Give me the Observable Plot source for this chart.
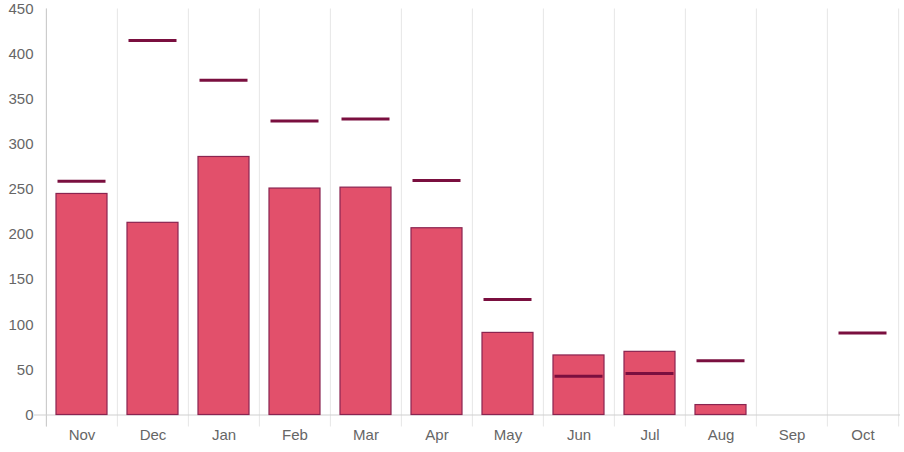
<!DOCTYPE html>
<html><head><meta charset="utf-8">
<script src="https://cdn.jsdelivr.net/npm/d3@7"></script>
<script src="https://cdn.jsdelivr.net/npm/@observablehq/plot@0.6"></script>
<style>body{margin:0;background:#fff}</style>
</head><body><div id="chart"></div>
<script>
const months = ["Nov","Dec","Jan","Feb","Mar","Apr","May","Jun","Jul","Aug","Sep","Oct"];
const actual = [245, 213, 286, 251, 252, 207, 91, 66, 70, 11, null, null];
const target = [259, 415, 371, 326, 328, 260, 128, 43, 46, 60, null, 91];
const yTicks = [0, 50, 100, 150, 200, 250, 300, 350, 400, 450];

const W = 904, H = 452, ML = 45, MR = 4, MT = 8.5, MB = 37.5;
const step = (W - ML - MR) / months.length;

const bars = months.map((m, i) => ({m, v: actual[i]})).filter(d => d.v != null);
const targets = months.map((m, i) => ({m, v: target[i]})).filter(d => d.v != null);

const chart = Plot.plot({
  width: W, height: H,
  marginLeft: ML, marginRight: MR, marginTop: MT, marginBottom: MB,
  style: {fontFamily: "'Liberation Sans', Arial, Helvetica, sans-serif", fontSize: "15px", color: "#666", background: "#fff"},
  x: {domain: months, paddingInner: 0.28, paddingOuter: 0.14, label: null},
  y: {domain: [0, 450], label: null},
  marks: [
    Plot.ruleX(months, {x: d => d, dx: -step / 2, stroke: "#e6e6e6", strokeWidth: 1, insetBottom: -12}),
    Plot.ruleX([months[months.length - 1]], {x: d => d, dx: step / 2, stroke: "#e6e6e6", strokeWidth: 1, insetBottom: -12}),
    Plot.ruleX([months[0]], {x: d => d, dx: -step / 2, stroke: "#c8c8c8", strokeWidth: 1, insetBottom: -12}),
    Plot.ruleY([0], {stroke: "#cfcfcf", strokeWidth: 1, insetLeft: -11}),
    Plot.barY(bars, {x: "m", y: "v", fill: "#e2506b", stroke: "#8a2450", strokeWidth: 1.2}),
    Plot.tickY(targets, {x: "m", y: "v", stroke: "#7a0f3f", strokeWidth: 3, insetLeft: 1.5, insetRight: 1.5}),
    Plot.axisY({ticks: yTicks, tickSize: 0, tickPadding: 12, label: null}),
    Plot.axisX({tickSize: 0, tickPadding: 14, label: null})
  ]
});
document.getElementById("chart").appendChild(chart);
</script>
</body></html>
